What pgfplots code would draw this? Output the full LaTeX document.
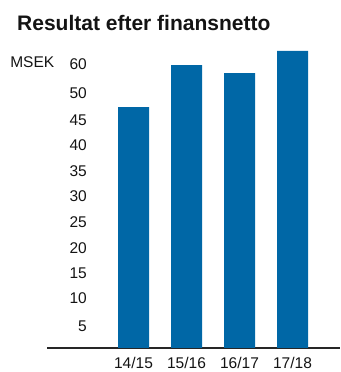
\documentclass[border=0pt]{standalone}
\usepackage{pgfplots}
\pgfplotsset{compat=1.18}
\usepackage{fontspec}
\setmainfont{Liberation Sans}
\definecolor{barblue}{RGB}{0,103,166}
\definecolor{txt}{RGB}{20,20,20}
\begin{document}
\begin{tikzpicture}[x=1pt,y=1pt]
\useasboundingbox (0,0) rectangle (340,372);
\node[anchor=base west, font=\fontsize{21}{24}\selectfont\bfseries, text=txt, inner sep=0] at (17,341) {Resultat efter finansnetto};
\begin{axis}[
  at={(47pt,24pt)}, anchor=south west,
  scale only axis, width=293pt, height=314.3pt,
  xmin=-1.632, xmax=3.896, ymin=0, ymax=62,
  axis x line*=bottom, axis y line*=left,
  x axis line style={-, draw=black!85, line width=1.2pt},
  y axis line style={draw=none},
  xtick={0,1,2,3}, xticklabels={14/15,15/16,16/17,17/18},
  ytick={4.2,9.8,14.7,19.7,24.9,30,34.9,40,45,50.2,56},
  yticklabels={5,10,15,20,25,30,35,40,45,50,60},
  tick style={draw=none},
  /pgf/number format/assume math mode=true,
  ticklabel style={font=\fontsize{15.5}{18}\selectfont, text=txt, inner sep=0},
  yticklabel style={anchor=east, xshift=40pt},
  xticklabel style={anchor=north, yshift=-9pt},
  clip=false,
]
\addplot[ybar, bar width=31pt, fill=barblue, draw=none, bar shift=0pt] coordinates {(0,47.5) (1,55.8) (2,54.2) (3,58.6)};
\node[anchor=west, inner sep=0, font=\fontsize{15.5}{18}\selectfont, text=txt] at (rel axis cs:-0.126,0.91) {MSEK};
\end{axis}
\end{tikzpicture}
\end{document}
